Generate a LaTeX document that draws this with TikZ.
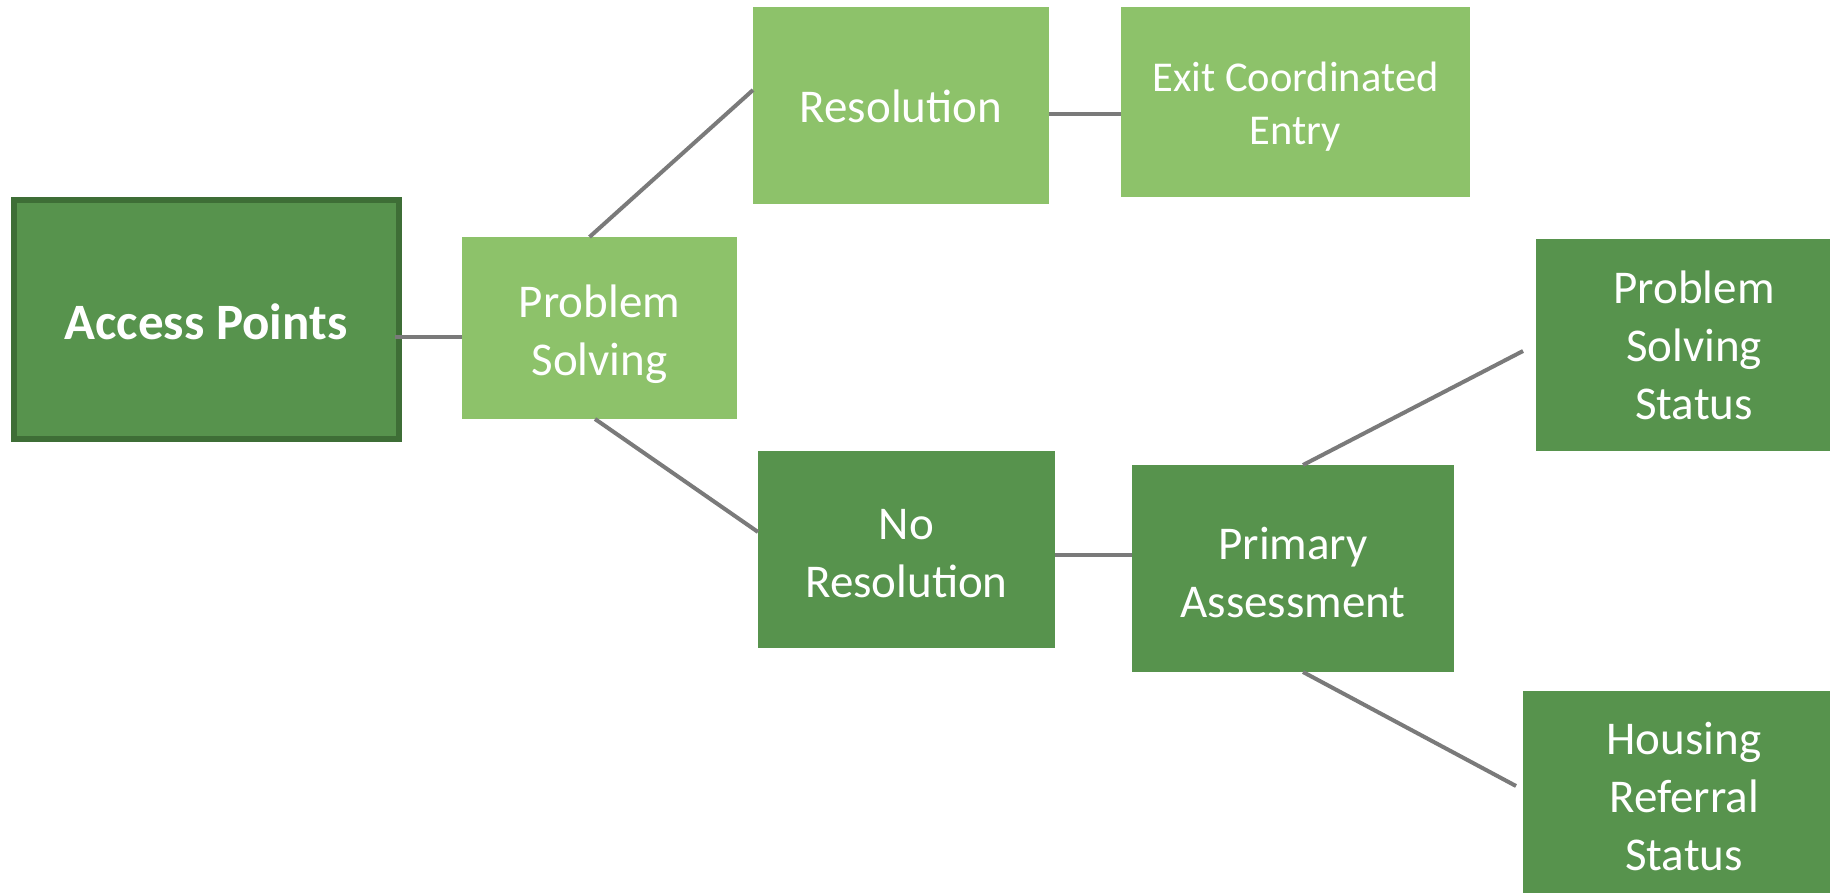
\documentclass[tikz,border=0pt]{standalone}
\usepackage{fontspec}
\setmainfont{Carlito}
\usetikzlibrary{calc}
\definecolor{lightg}{HTML}{8DC26A}
\definecolor{darkg}{HTML}{57934D}
\definecolor{borderg}{HTML}{3E6E36}
\definecolor{linegray}{HTML}{7A7A7A}
\tikzset{
  box/.style={rectangle, inner sep=0pt, outer sep=0pt},
  lightbox/.style={box, fill=lightg},
  darkbox/.style={box, fill=darkg},
  txt/.style={inner sep=0pt, align=center, text=white,
    font=\fontsize{47}{58}\selectfont},
  conn/.style={draw=linegray, line width=4pt}
}
\begin{document}
\begin{tikzpicture}[x=1pt,y=-1pt]
\useasboundingbox (0,0) rectangle (1830,893);
\fill[white] (0,0) rectangle (1830,893);
\begin{scope}
\clip (0,0) rectangle (1830,893);
\node[darkbox, draw=borderg, line width=6pt, minimum width=385pt, minimum height=239pt,
  label={[txt, font=\fontsize{51}{60}\selectfont\bfseries, yshift=-2pt]center:Access Points}] (a) at (206,319.5) {};
\node[lightbox, minimum width=275pt, minimum height=182pt,
  label={[txt, yshift=-6pt]center:Problem\\Solving}] (ps) at (599.5,328) {};
\node[lightbox, minimum width=296pt, minimum height=197pt,
  label={[txt, yshift=-1pt]center:Resolution}] (res) at (901,105.5) {};
\node[lightbox, minimum width=349pt, minimum height=190pt,
  label={[txt, font=\fontsize{42.5}{53}\selectfont, yshift=-5pt]center:Exit Coordinated\\Entry}] (exit) at (1295.5,102) {};
\node[darkbox, minimum width=297pt, minimum height=197pt,
  label={[txt, yshift=-4pt]center:No\\Resolution}] (nores) at (906.5,549.5) {};
\node[darkbox, minimum width=322pt, minimum height=207pt,
  label={[txt, yshift=-4pt]center:Primary\\Assessment}] (pa) at (1293,568.5) {};
\node[darkbox, minimum width=316pt, minimum height=212pt,
  label={[txt]center:Problem\\Solving\\Status}] (pss) at (1694,345) {};
\node[darkbox, minimum width=322pt, minimum height=210pt,
  label={[txt]center:Housing\\Referral\\Status}] (hrs) at (1684,796) {};
\end{scope}
\draw[conn] ($(a.east)+(-4,17.5)$) -- ($(ps.west)+(0,9)$);
\draw[conn] ($(ps.north)+(-10,0)$) -- ($(res.west)+(0,-15.5)$);
\draw[conn] ($(res.east)+(0,8.5)$) -- ($(exit.west)+(0,12)$);
\draw[conn] ($(ps.south)+(-4.5,0)$) -- ($(nores.west)+(0,-17.5)$);
\draw[conn] ($(nores.east)+(0,5.5)$) -- ($(pa.west)+(0,-13.5)$);
\draw[conn] ($(pa.north)+(10,0)$) -- ($(pss.west)+(-13,6)$);
\draw[conn] ($(pa.south)+(10,0)$) -- ($(hrs.west)+(-7,-10)$);
\end{tikzpicture}
\end{document}
